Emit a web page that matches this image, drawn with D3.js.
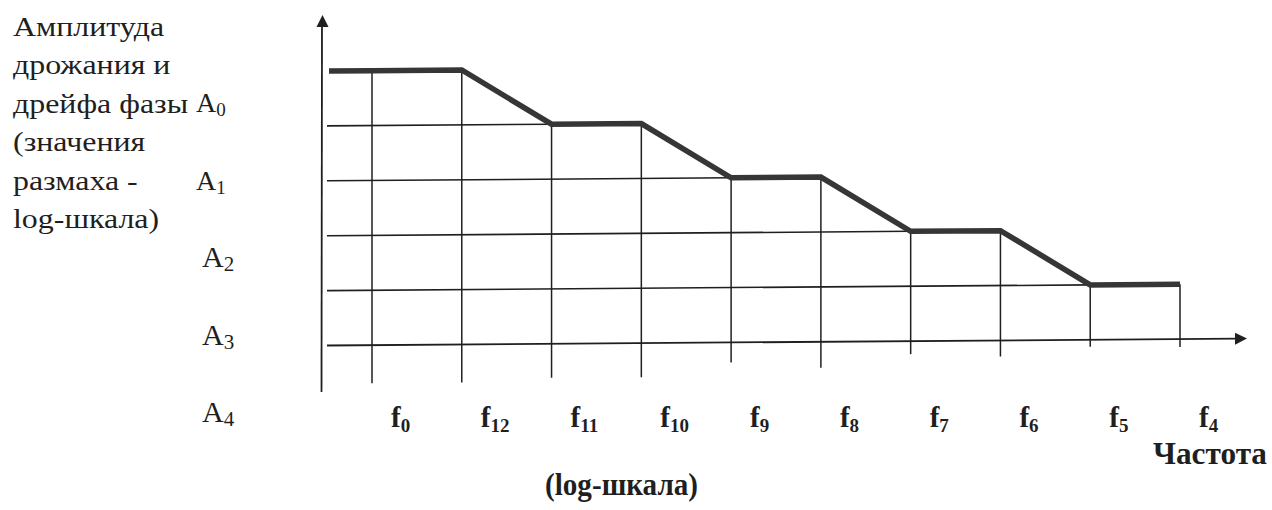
<!DOCTYPE html>
<html><head><meta charset="utf-8">
<script src="https://cdn.jsdelivr.net/npm/d3@7"></script>
<style>html,body{margin:0;padding:0;background:#fff}</style>
</head><body><svg id="c" width="1272" height="510"></svg>
<script>
// ---- data ----
const freqLabels = ["f0","f12","f11","f10","f9","f8","f7","f6","f5","f4"];
const ampLabels = ["A0","A1","A2","A3","A4"];
const startLevel = 0;                               // level at the origin
const profileLevels = [0,0,1,1,2,2,3,3,4,4];        // level (index into ampLabels) at each frequency
const titleLines = ["Амплитуда","дрожания и","дрейфа фазы","(значения","размаха -","log-шкала)"];
const xTitle = "Частота";
const xSubTitle = "(log-шкала)";

// ---- drawing ----
const svg = d3.select("#c");
svg.append("rect").attr("width",1272).attr("height",510).attr("fill","#fff");

const ink = "#1f1f1f";
const x0 = 327, xArrow = 1247;
const baseLevel = ampLabels.length;
const x = d3.scalePoint().domain(freqLabels).range([372,1180]);
const y = d3.scaleLinear().domain([0, baseLevel]).range([71,345.5]);
const yLab = d3.scaleLinear().domain([0, ampLabels.length-1]).range([112,422]);
const tickDrop = [38,38,34,34,20,26,13,16,7,8];

const s = 0.0075; // slight scan skew
const plot = svg.append("g").attr("transform",`matrix(1,${-s},0,1,0,${s*x0})`);

// horizontal grid lines: from axis to the point where the profile reaches the level
plot.selectAll("line.grid").data(d3.range(1, ampLabels.length)).join("line")
  .attr("class","grid")
  .attr("x1", x0)
  .attr("x2", k => x(freqLabels[profileLevels.indexOf(k)]))
  .attr("y1", k => y(k)).attr("y2", k => y(k))
  .attr("stroke", ink).attr("stroke-width", 1.6);

// vertical lines at each frequency
plot.selectAll("line.vert").data(freqLabels).join("line")
  .attr("class","vert")
  .attr("x1", d => x(d)).attr("x2", d => x(d))
  .attr("y1", (d,i) => y(profileLevels[i]))
  .attr("y2", (d,i) => y(baseLevel) + tickDrop[i])
  .attr("stroke", ink).attr("stroke-width", 1.5);

// x axis
plot.append("line").attr("x1", x0).attr("x2", xArrow-10)
  .attr("y1", y(baseLevel)).attr("y2", y(baseLevel))
  .attr("stroke", ink).attr("stroke-width", 1.8);
plot.append("polygon")
  .attr("points", `${xArrow},${y(baseLevel)} ${xArrow-12},${y(baseLevel)-6} ${xArrow-12},${y(baseLevel)+6}`)
  .attr("fill", ink);

// profile (thick line)
const pts = [[x0+2, y(startLevel)]].concat(freqLabels.map((f,i) => [x(f), y(profileLevels[i])]));
plot.append("path").attr("d", d3.line()(pts))
  .attr("fill","none").attr("stroke","#363636").attr("stroke-width",5.5)
  .attr("stroke-linejoin","miter").attr("stroke-linecap","butt");

// y axis
svg.append("line").attr("x1",321.5).attr("x2",322).attr("y1",392).attr("y2",26)
  .attr("stroke", ink).attr("stroke-width", 1.8);
svg.append("polygon").attr("points","322.5,15 316.5,27 328.5,27").attr("fill", ink);

// y title
const tg = svg.append("g").attr("transform","translate(13,0) scale(1.14,1)");
tg.selectAll("text").data(titleLines).join("text")
  .attr("x",0).attr("y",(d,i)=>36+38.5*i)
  .attr("font-family","'Liberation Serif', serif").attr("font-size",28)
  .attr("fill",ink).text(d=>d);

// y level labels
ampLabels.forEach((a,i) => {
  const big = i >= 2;
  const t = svg.append("text")
    .attr("x", big ? 202 : 196).attr("y", yLab(i))
    .attr("font-family","'Liberation Serif', serif").attr("fill",ink)
    .attr("font-size", big ? 30 : 28);
  t.append("tspan").text(a[0]);
  t.append("tspan").attr("font-size", big ? 21 : 19).attr("dy", 4).text(a.slice(1));
});

// x labels
freqLabels.forEach(f => {
  const t = svg.append("text")
    .attr("x", x(f)+19).attr("y", 427)
    .attr("font-family","'Liberation Serif', serif").attr("font-weight","bold")
    .attr("fill",ink).attr("font-size",29);
  t.append("tspan").text(f[0]);
  t.append("tspan").attr("font-size",19).attr("dy",5).text(f.slice(1));
});

svg.append("text").attr("x",1153).attr("y",464)
  .attr("font-family","'Liberation Serif', serif").attr("font-weight","bold")
  .attr("font-size",32).attr("fill",ink)
  .attr("textLength",114).attr("lengthAdjust","spacingAndGlyphs").text(xTitle);
svg.append("text").attr("x",545).attr("y",495)
  .attr("font-family","'Liberation Serif', serif").attr("font-weight","bold")
  .attr("font-size",31).attr("fill",ink)
  .attr("textLength",153).attr("lengthAdjust","spacingAndGlyphs").text(xSubTitle);
</script></body></html>
